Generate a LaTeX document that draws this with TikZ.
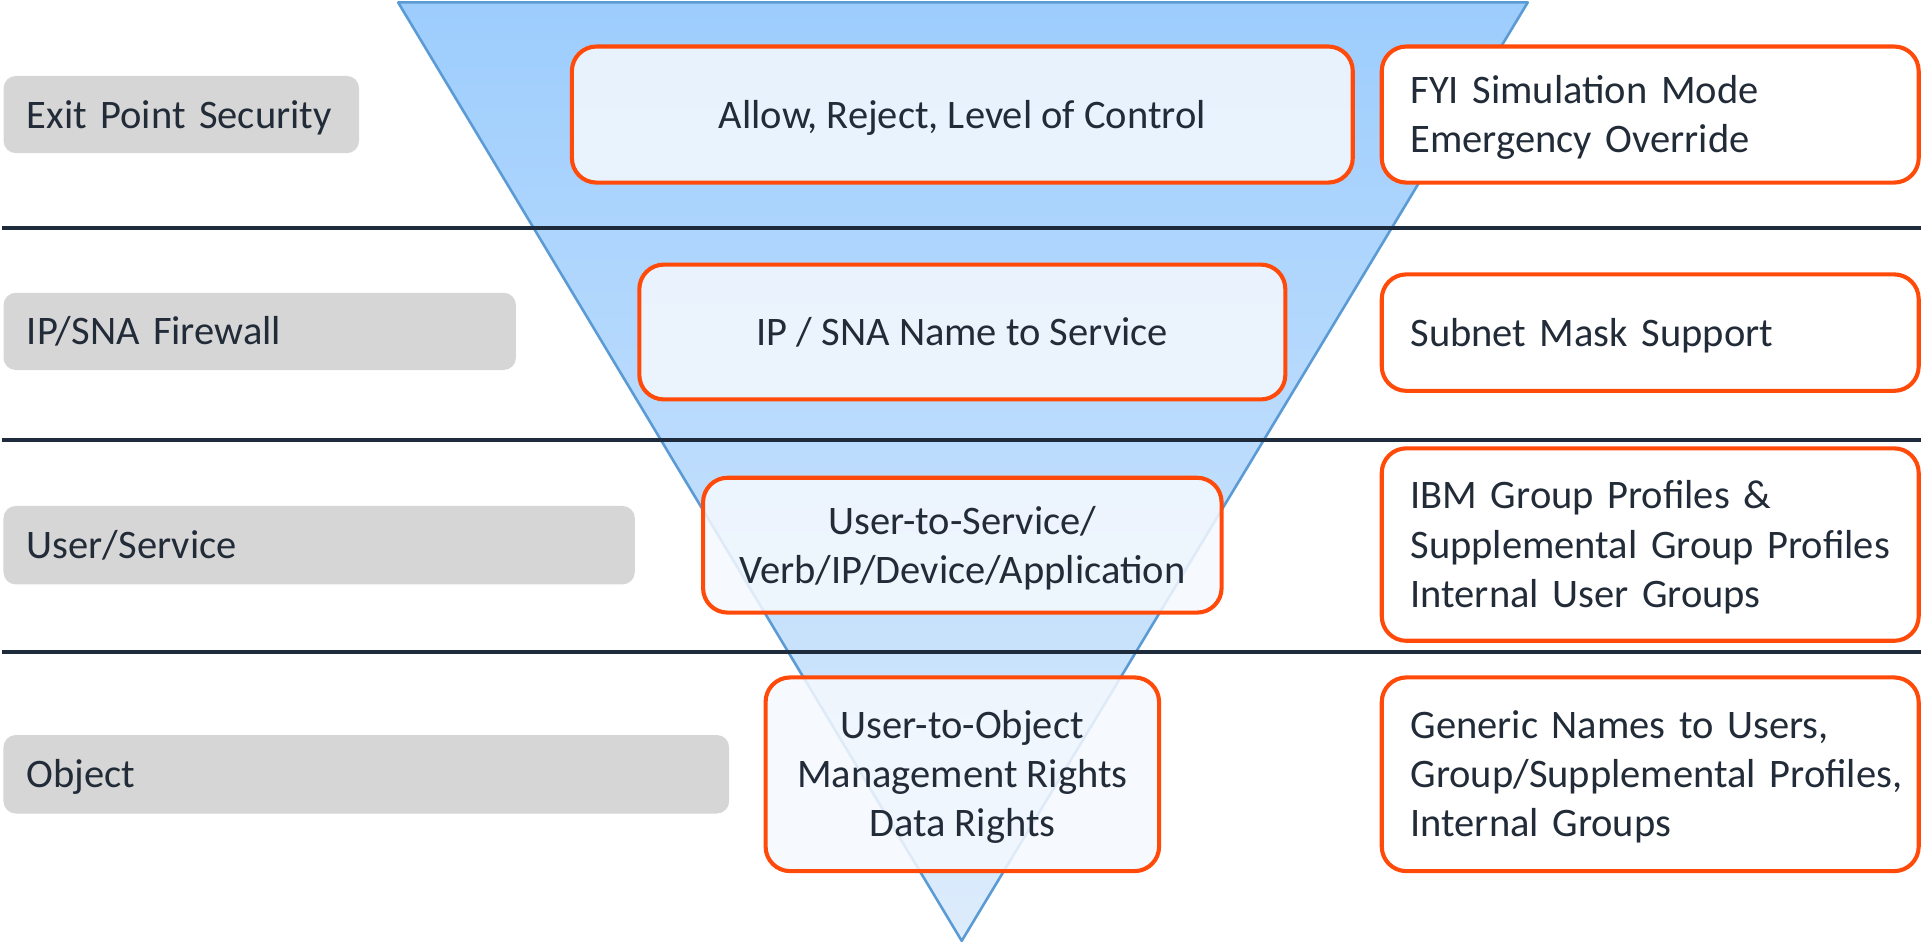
\documentclass[tikz,border=0pt]{standalone}
\usepackage{fontspec}
\setmainfont{Carlito}
\definecolor{txt}{HTML}{222B38}
\definecolor{orng}{HTML}{FF4A0A}
\definecolor{graybox}{HTML}{D6D6D6}
\definecolor{navy}{HTML}{1E2B3C}
\definecolor{tritop}{HTML}{9DCDFD}
\definecolor{tribot}{HTML}{DDECFC}
\definecolor{triedge}{HTML}{5B9BD5}
\definecolor{boxfill}{HTML}{F5F9FE}
\newcommand\Ts{\rule{0pt}{0.34cm}}
\newcommand\Bs{\rule[-0.12cm]{0pt}{0pt}}
\hbadness=10000 \hfuzz=30pt
\tikzset{
  fnt/.style={font=\fontsize{9.4}{11.4}\selectfont},
  lbl/.style={fnt, fill=graybox, rounded corners=0.1cm, inner xsep=0.19cm, inner ysep=0pt, align=left, text=txt},
  midbox/.style={fnt, draw=orng, line width=0.95pt, fill=boxfill, fill opacity=0.85, text opacity=1, rounded corners=0.2cm, align=center, text=txt, inner sep=0pt},
  rbox/.style={fnt, draw=orng, line width=0.95pt, fill=white, rounded corners=0.2cm, inner xsep=0.235cm, inner ysep=0pt, align=left, text=txt},
  sep/.style={draw=navy, line width=0.9pt}
}
\begin{document}
\begin{tikzpicture}[x=0.01cm,y=-0.01cm]
\useasboundingbox (0,0) rectangle (1568,770);
% funnel
\coordinate (tl) at (325,2);
\coordinate (tr) at (1247,2);
\coordinate (tip) at (785,768);
\shade[top color=tritop, bottom color=tribot] (tl) -- (tr) -- (tip) -- cycle;
\draw[triedge, line width=0.6pt, line join=round] (tl) -- (tr) -- (tip) -- cycle;
% separators
\coordinate (s1a) at (2,186); \coordinate (s1b) at (1568,186);
\coordinate (s2a) at (2,359); \coordinate (s2b) at (1568,359);
\coordinate (s3a) at (2,532); \coordinate (s3b) at (1568,532);
\draw[sep] (s1a) -- (s1b);
\draw[sep] (s2a) -- (s2b);
\draw[sep] (s3a) -- (s3b);
% left labels
\node[lbl, text width=2.52cm, minimum height=0.63cm] (l1) at (148,93.5) {\Ts Exit Point Security\Bs};
\node[lbl, text width=3.80cm, minimum height=0.63cm] (l2) at (212,270.5) {\Ts IP/SNA Firewall\Bs};
\node[lbl, text width=4.77cm, minimum height=0.64cm] (l3) at (260.5,445) {\Ts User/Service\Bs};
\node[lbl, text width=5.54cm, minimum height=0.64cm] (l4) at (299,632) {\Ts Object\Bs};
% middle boxes
\node[midbox, minimum width=6.37cm, minimum height=1.11cm] (m1) at (785.5,93.5) {\Ts Allow, Reject, Level of Control\Bs};
\node[midbox, minimum width=5.27cm, minimum height=1.10cm] (m2) at (785.5,271) {\Ts IP / SNA Name to Service\Bs};
\node[midbox, minimum width=4.23cm, minimum height=1.10cm] (m3) at (785.5,445) {\Ts User-to-Service/\\Verb/IP/Device/Application\Bs};
\node[midbox, minimum width=3.21cm, minimum height=1.58cm] (m4) at (785.5,632) {\Ts User-to-Object\\Management Rights\\Data Rights\Bs};
% right boxes
\node[rbox, text width=3.91cm, minimum height=1.11cm] (r1) at (1347,93.5) {\Ts \mbox{FYI Simulation Mode}\\\mbox{Emergency Override}\Bs};
\node[rbox, text width=3.91cm, minimum height=0.95cm] (r2) at (1347,271.5) {\Ts \mbox{Subnet Mask Support}\Bs};
\node[rbox, text width=3.91cm, minimum height=1.57cm] (r3) at (1347,444.5) {\Ts \mbox{IBM Group Profiles \&}\\\mbox{Supplemental Group Profiles}\\\mbox{Internal User Groups}\Bs};
\node[rbox, text width=3.91cm, minimum height=1.58cm] (r4) at (1347,632) {\Ts \mbox{Generic Names to Users,}\\\mbox{Group/Supplemental Profiles,}\\\mbox{Internal Groups}\Bs};
\end{tikzpicture}
\end{document}
